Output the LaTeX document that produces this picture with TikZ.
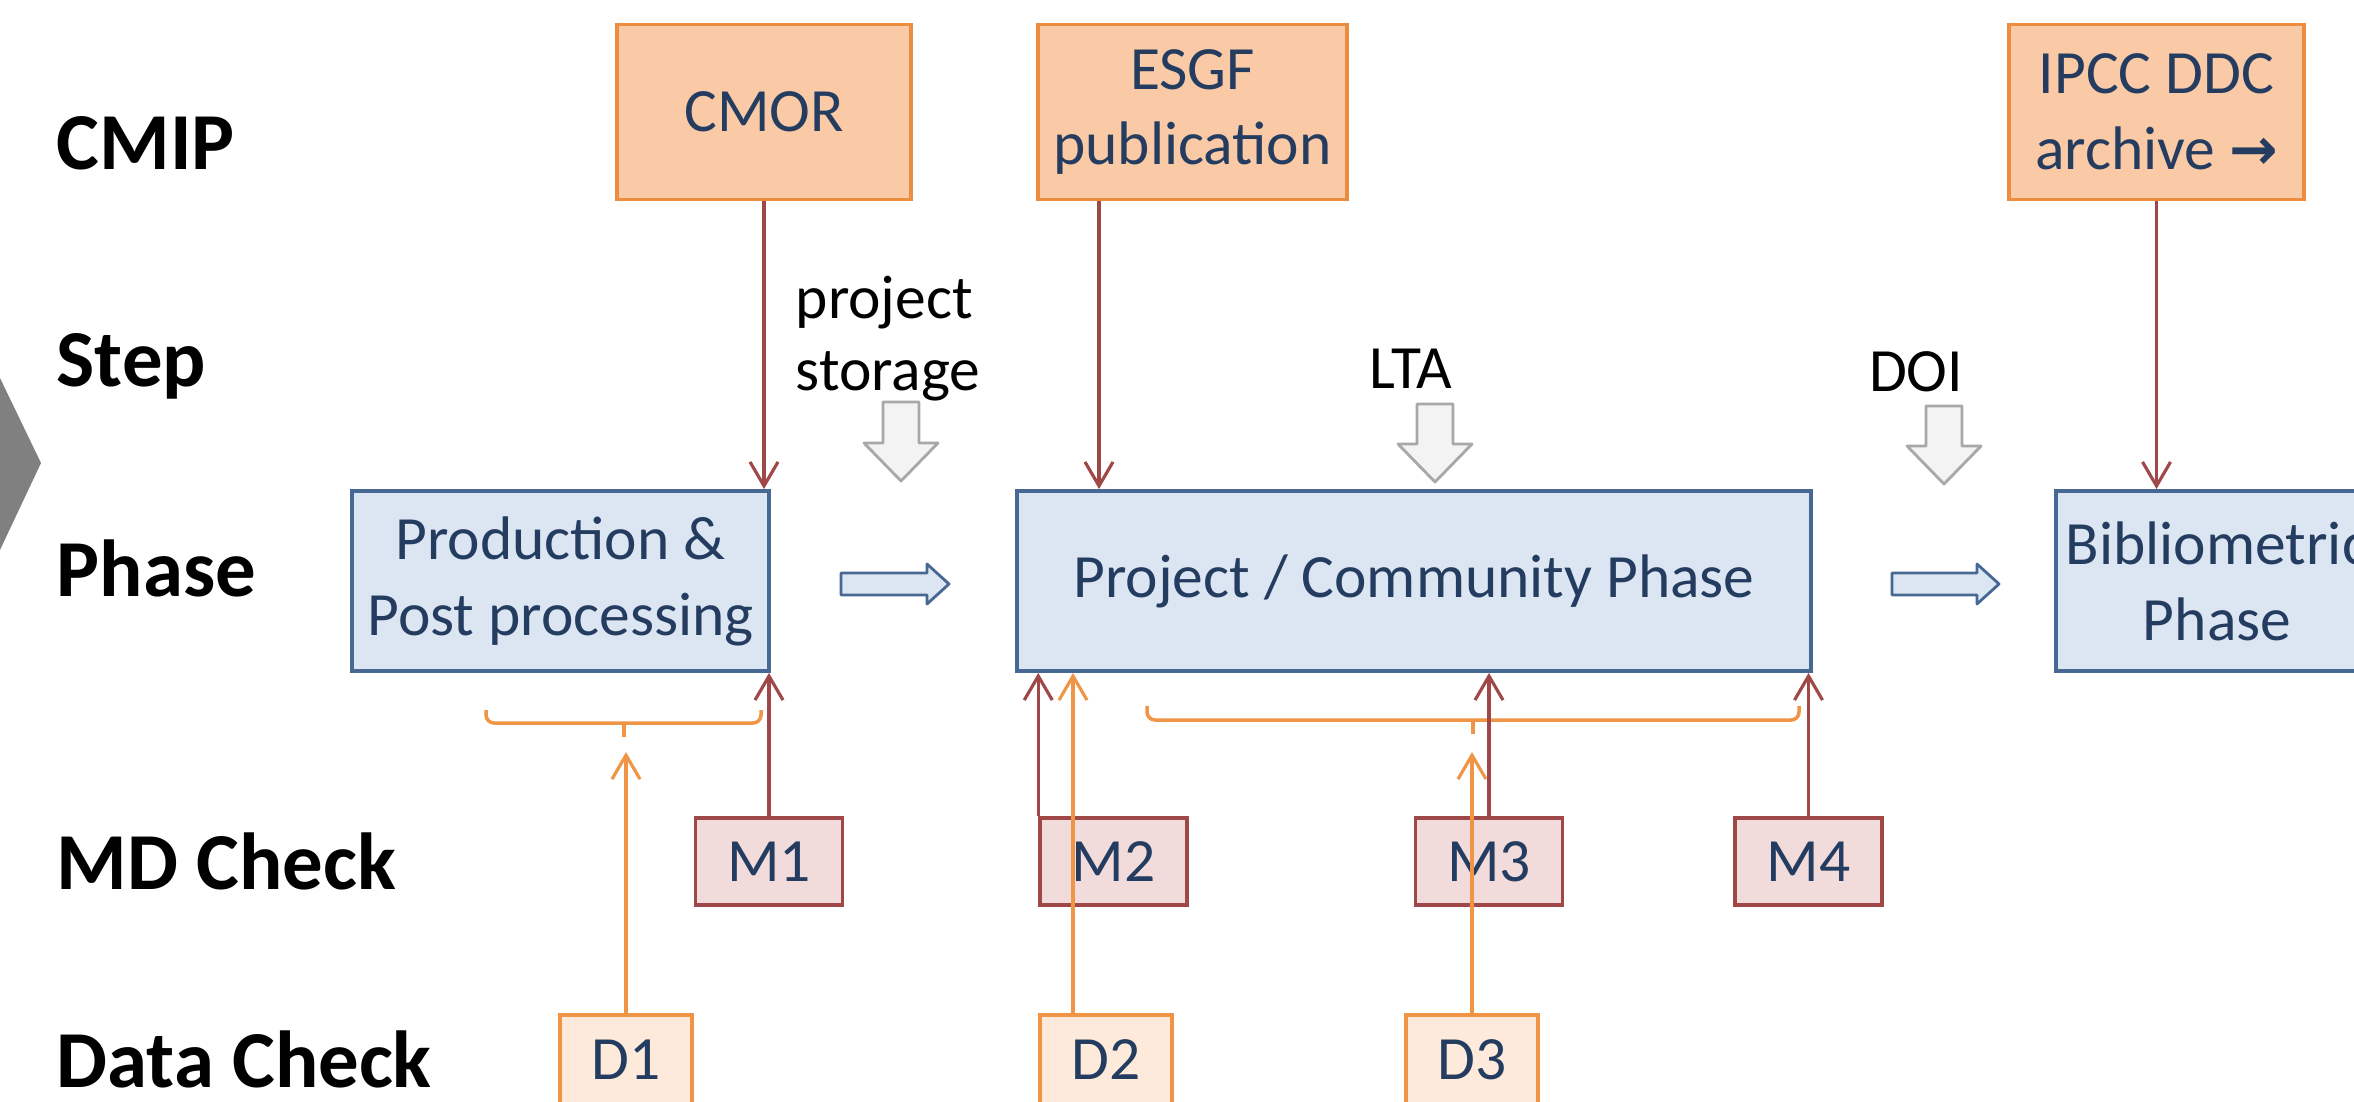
\documentclass[tikz,border=0pt]{standalone}
\usepackage{fontspec}
\setmainfont{Carlito}
\newfontfamily\arrowfont{DejaVu Sans}
\usepackage{tikz}
\usetikzlibrary{arrows.meta}

\definecolor{cmipfill}{RGB}{250,202,166}
\definecolor{cmipdraw}{RGB}{236,140,62}
\definecolor{phasefill}{RGB}{220,230,242}
\definecolor{phasedraw}{RGB}{72,104,148}
\definecolor{mdfill}{RGB}{242,220,219}
\definecolor{mddraw}{RGB}{160,72,72}
\definecolor{dcfill}{RGB}{253,234,218}
\definecolor{dcdraw}{RGB}{240,148,70}
\definecolor{boxtext}{RGB}{36,60,96}
\definecolor{graydraw}{RGB}{168,168,168}
\definecolor{grayfill}{RGB}{243,243,243}
\definecolor{chevron}{RGB}{128,128,128}

\newcommand\boxtxt{\fontsize{17.5}{21.6}\selectfont}
\newcommand\rowtxt{\fontsize{23}{27}\selectfont\bfseries}

\tikzset{
  cmipbox/.style={draw=cmipdraw, fill=cmipfill, line width=1pt, minimum height=17.5mm,
    inner sep=0pt, align=center, text=boxtext, font=\boxtxt},
  phasebox/.style={draw=phasedraw, fill=phasefill, line width=1.1pt, minimum height=18mm,
    inner sep=0pt, align=center, text=boxtext, font=\boxtxt},
  mdbox/.style={draw=mddraw, fill=mdfill, line width=1pt, minimum width=14.7mm,
    minimum height=8.7mm, inner sep=0pt, text=boxtext, font=\boxtxt},
  dcbox/.style={draw=dcdraw, fill=dcfill, line width=1pt, minimum width=13.2mm,
    minimum height=9mm, inner sep=0pt, text=boxtext, font=\boxtxt},
  rowlabel/.style={anchor=base west, inner sep=0pt, font=\rowtxt},
  steptext/.style={anchor=base, inner sep=0pt, font=\boxtxt},
  mdarrow/.style={draw=mddraw, line width=0.9pt, -{Straight Barb[length=2.4mm,width=2.8mm]}},
  dcarrow/.style={draw=dcdraw, line width=0.9pt, -{Straight Barb[length=2.4mm,width=2.8mm]}},
  bracket/.style={draw=dcdraw, line width=1pt, rounded corners=0.8mm},
  grayarrow/.style={draw=graydraw, fill=grayfill, line width=0.8pt, line join=round},
  flowarrow/.style={draw=phasedraw, fill=phasefill, line width=0.8pt, line join=round}
}

\begin{document}
\begin{tikzpicture}[x=0.1mm, y=-0.1mm]

% the frame
\useasboundingbox (0,0) rectangle (2354,1102);
\fill [white] (0,0) rectangle (2354,1102);
\clip (0,0) rectangle (2354,1102);

% the gray chevron
\fill [chevron] (-20,336) -- (0,378) -- (41,463) -- (0,550) -- (-20,592) -- cycle;

% row labels
\node [rowlabel] (lcmip) at (56,170) {CMIP};
\node [rowlabel] (lstep) at (56,386) {Step};
\node [rowlabel] (lphase) at (56,596) {Phase};
\node [rowlabel] (lmd) at (56,889) {MD Check};
\node [rowlabel] (ldata) at (56,1087) {Data Check};

% CMIP boxes
\node [cmipbox, minimum width=29.4mm] (cmor) at (764,112) {CMOR};
\node [cmipbox, minimum width=30.9mm] (esgf) at (1192.5,112) {ESGF\\publication};
\node [cmipbox, minimum width=29.5mm] (ipcc) at (2156.5,112) {IPCC DDC\\archive {\arrowfont\bfseries\fontsize{16.5}{18}\selectfont →}};

% steps
\node [steptext, anchor=base west] (storage) at (795,318) {project};
\node [steptext, anchor=base west] (storage2) at (795,390) {storage};
\node [steptext] (lta) at (1411,388) {LTA};
\node [steptext] (doi) at (1916,391) {DOI};

\draw [grayarrow] (883,402) -- (919,402) -- (919,443) -- (938,443) -- (901,481) -- (864,443) -- (883,443) -- cycle;
\draw [grayarrow] (1417,404) -- (1453,404) -- (1453,444) -- (1472,444) -- (1435,482) -- (1398,444) -- (1417,444) -- cycle;
\draw [grayarrow] (1926,406) -- (1962,406) -- (1962,446) -- (1981,446) -- (1944,484) -- (1907,446) -- (1926,446) -- cycle;

% phases
\node [phasebox, minimum width=41.7mm] (pp) at (560.5,581) {Production \&\\Post processing};
\node [phasebox, minimum width=79.4mm] (pc) at (1414,581) {Project / Community Phase};
\node [phasebox, minimum width=32.2mm] (bib) at (2217,581) {Bibliometric\\Phase};

\draw [flowarrow] (841,573) -- (927,573) -- (927,564) -- (949,584) -- (927,604) -- (927,595) -- (841,595) -- cycle;
\draw [flowarrow] (1892,573) -- (1977,573) -- (1977,564) -- (1999,584) -- (1977,604) -- (1977,595) -- (1892,595) -- cycle;

% CMIP into phases
\draw [mdarrow] (cmor) -- (cmor |- pp.north);
\draw [mdarrow] ([xshift=-9.35mm]esgf.south) -- ([xshift=-9.35mm]esgf.south |- pc.north);
\draw [mdarrow] (ipcc) -- (ipcc |- bib.north);

% MD checks
\node [mdbox] (m1) at (769,861.5) {M1};
\node [mdbox] (m2) at (1113.5,861.5) {M2};
\node [mdbox] (m3) at (1489,861.5) {M3};
\node [mdbox] (m4) at (1808.5,861.5) {M4};

% data checks
\node [dcbox] (d1) at (626,1060) {D1};
\node [dcbox] (d2) at (1106,1060) {D2};
\node [dcbox] (d3) at (1472,1060) {D3};

% the brackets
\draw [bracket] (486,710) -- (486,723) -- (761,723) -- (761,710);
\draw [bracket] (624,723) -- (624,737);
\draw [bracket] (1147,706) -- (1147,720) -- (1799,720) -- (1799,706);
\draw [bracket] (1473,720) -- (1473,734);
\coordinate (d1tip) at (626,752);
\coordinate (d3tip) at (1472,752);

% MD arrows
\draw [mdarrow] (m1) -- (m1 |- pp.south);
\draw [mdarrow] (m2.north west) -- (m2.north west |- pc.south);
\draw [mdarrow] (m3) -- (m3 |- pc.south);
\draw [mdarrow] (m4) -- (m4 |- pc.south);

% data arrows
\draw [dcarrow] (d1) -- (d1tip);
\draw [dcarrow] ([xshift=-3.3mm]d2.north) -- ([xshift=-3.3mm]d2.north |- pc.south);
\draw [dcarrow] (d3) -- (d3tip);

\end{tikzpicture}
\end{document}
